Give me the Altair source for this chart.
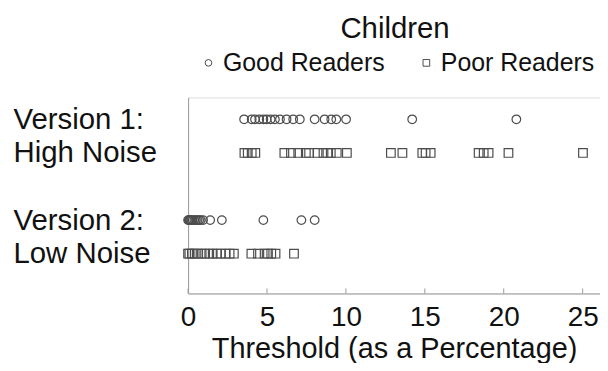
import altair as alt
import pandas as pd

# ---- data ----
v1_good = [3.55, 4.03, 4.24, 4.51, 4.77, 4.98, 5.23, 5.5, 5.82, 6.24, 6.66, 7.08,
           8.02, 8.65, 9.07, 9.39, 10.01, 14.2, 20.8]
v1_poor = [3.57, 3.78, 4.03, 4.26, 6.1, 6.52, 6.98, 7.46, 7.67, 8.2, 8.58, 8.83,
           9.04, 9.42, 10.06, 12.85, 13.58, 14.84, 15.05, 15.37, 18.41, 18.73,
           19.04, 20.3, 25.02]
v2_good = [0.0, 0.05, 0.1, 0.15, 0.22, 0.3, 0.4, 0.5, 0.6, 0.7, 0.8, 0.95, 1.4,
           2.14, 4.77, 7.18, 8.02]
v2_poor = [0.0, 0.08, 0.24, 0.42, 0.64, 0.86, 1.08, 1.34, 1.56, 1.81, 2.06, 2.38,
           2.63, 2.9, 4.01, 4.43, 4.85, 5.06, 5.27, 5.54, 6.71]
row_labels = ["Version 1:", "High Noise", " ", "Version 2:", "Low Noise"]
groups = ["Good Readers", "Poor Readers"]
x_ticks = [0, 5, 10, 15, 20, 25]

rows = []
for vals, row, grp in [(v1_good, row_labels[0], groups[0]),
                       (v1_poor, row_labels[1], groups[1]),
                       (v2_good, row_labels[3], groups[0]),
                       (v2_poor, row_labels[4], groups[1])]:
    for v in vals:
        rows.append({"value": v, "row": row, "group": grp})
df = pd.DataFrame(rows)

FONT = "Liberation Sans"
GRAY = "#9a9a9a"
MARK = "#4d4d4d"

xscale = alt.Scale(domain=[0, 26.1], nice=False, zero=False)

points = alt.Chart(df).mark_point(filled=False, strokeWidth=1.2, color=MARK, size=75, opacity=1).encode(
    x=alt.X("value:Q", scale=xscale,
            axis=alt.Axis(values=x_ticks, title="Threshold (as a Percentage)", ticks=False, tickSize=0,
                          grid=False, domainColor=GRAY, labelFontSize=28, labelFont=FONT,
                          labelColor="#111", labelPadding=10, titleFontSize=29, titleFont=FONT,
                          titleFontWeight="normal", titleColor="#111", titlePadding=3,
                          labelFlush=False)),
    y=alt.Y("row:N", sort=row_labels,
            scale=alt.Scale(type="point", domain=row_labels, padding=0.918, align=0.355),
            axis=alt.Axis(title=None, ticks=False, tickSize=0, labelAlign="left", labelPadding=176,
                          labelFontSize=29.5, labelFont=FONT, labelColor="#111", domainColor=GRAY,
                          grid=False, labelBaseline="middle", labelLimit=0)),
    shape=alt.Shape("group:N", scale=alt.Scale(domain=groups, range=["circle", "square"]),
                    legend=alt.Legend(title="Children", orient="none", legendX=8, legendY=-83,
                                      direction="horizontal", titleAnchor="middle",
                                      titleFontSize=29.5, titleFont=FONT, titleFontWeight="normal",
                                      titleColor="#111", labelFontSize=25, labelFont=FONT,
                                      labelColor="#111", labelLimit=0, symbolSize=45,
                                      symbolStrokeColor=MARK, symbolStrokeWidth=1,
                                      columnPadding=29, labelOffset=2, titlePadding=6)),
)

ticks = alt.Chart(pd.DataFrame({"t": x_ticks})).mark_rule(color=GRAY, strokeWidth=1).encode(
    x=alt.X("t:Q", scale=xscale),
    y=alt.value(192),
    y2=alt.value(197),
)

chart = alt.layer(ticks, points).properties(
    width=414, height=197,
    autosize="none",
    padding={"left": 181, "top": 89, "right": 0, "bottom": 69},
).configure_view(stroke=None).configure(background="white")

chart.save("out.html", embed_options={"renderer": "svg", "actions": False})
